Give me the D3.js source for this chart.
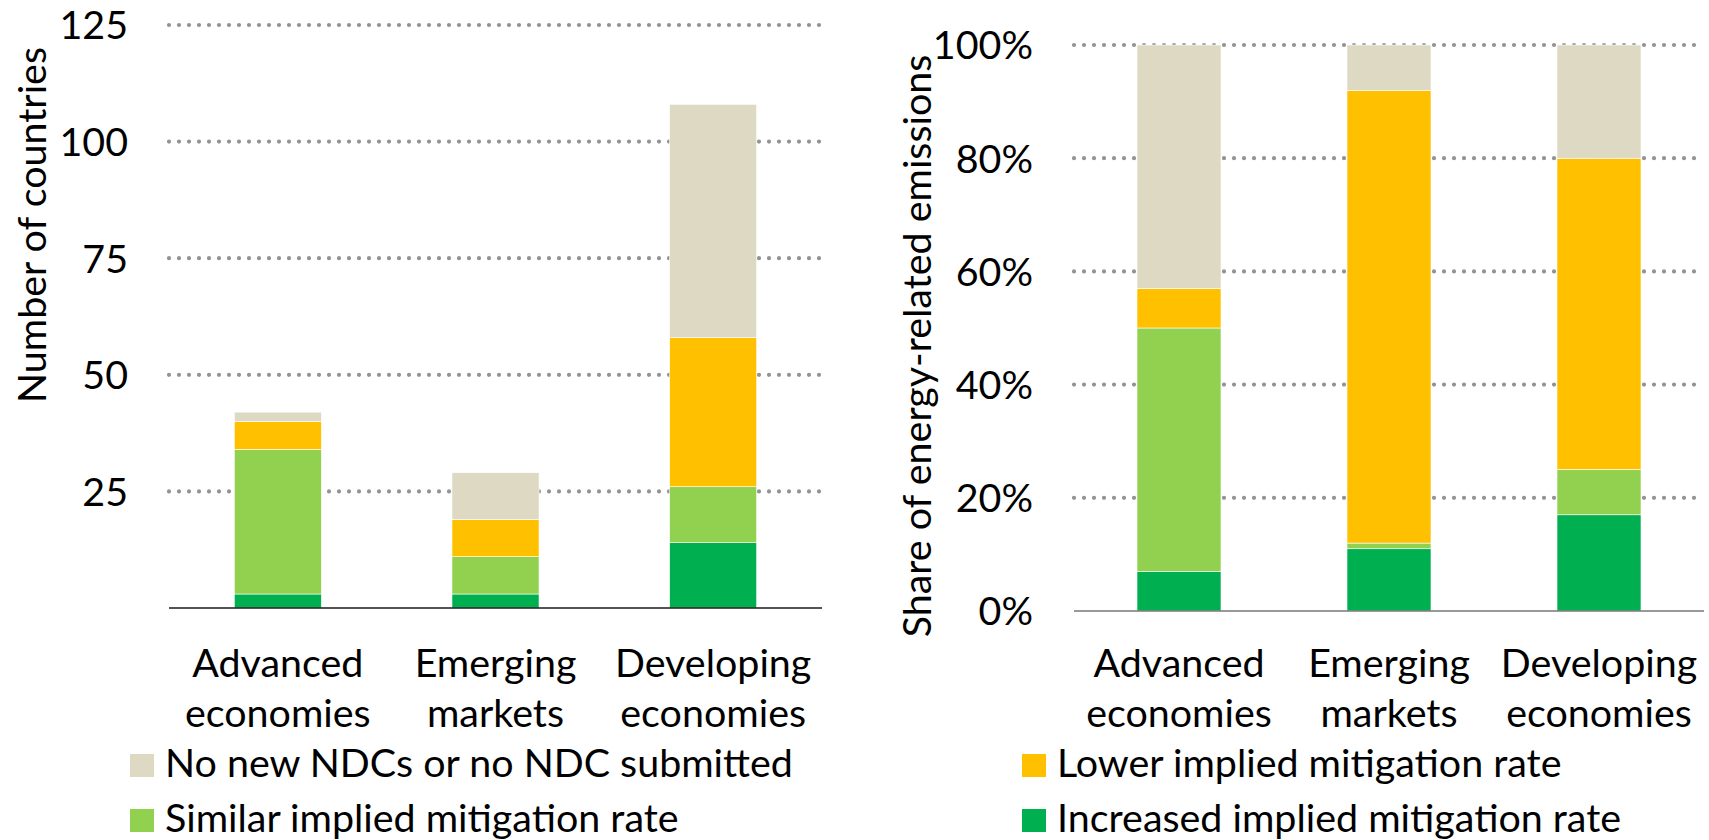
<!DOCTYPE html>
<html>
<head>
<meta charset="utf-8">
<script src="https://cdnjs.cloudflare.com/ajax/libs/d3/7.8.5/d3.min.js"></script>
<style>
  body { margin: 0; background: #fff; }
  svg text { font-family: Lato, "Open Sans", sans-serif; fill: #000; }
</style>
</head>
<body>
<svg id="chart" width="1709" height="840"></svg>
<script>

// categories (two lines each)
var categories = ["Advanced economies", "Emerging markets", "Developing economies"];
var categoryLines = [["Advanced", "economies"], ["Emerging", "markets"], ["Developing", "economies"]];

// series, stacked from the bottom up
var seriesKeys = ["increased", "similar", "lower", "none"];
var seriesNames = {
  none: "No new NDCs or no NDC submitted",
  similar: "Similar implied mitigation rate",
  lower: "Lower implied mitigation rate",
  increased: "Increased implied mitigation rate"
};

// number of countries
var countriesIncreased = [3, 3, 14];
var countriesSimilar   = [31, 8, 12];
var countriesLower     = [6, 8, 32];
var countriesNone      = [2, 10, 50];

// share of energy-related emissions (%)
var emissionsIncreased = [7, 11, 17];
var emissionsSimilar   = [43, 1, 8];
var emissionsLower     = [7, 80, 55];
var emissionsNone      = [43, 8, 20];

// tick labels
var countryTicks = [25, 50, 75, 100, 125];
var shareTicks = [0, 20, 40, 60, 80, 100];

var colour = d3.scaleOrdinal()
  .domain(seriesKeys)
  .range(["#00B050", "#92D050", "#FFC000", "#DDD9C3"]);

var svg = d3.select("#chart");

// pick a font size so the Lato text runs about as wide as the original
var probe = svg.append("text").attr("font-size", 100).text(seriesNames.none);
var fontSize = Math.min(44, 100 * 628 / probe.node().getComputedTextLength());
probe.remove();

function rows(a, b, c, d) {
  return categories.map(function(cat, i) {
    return { category: cat, increased: a[i], similar: b[i], lower: c[i], none: d[i] };
  });
}

function drawPanel(opt) {
  var x = d3.scaleBand()
    .domain(categories)
    .range([opt.left, opt.right])
    .paddingInner(0.6)
    .paddingOuter(0.3);

  var y = d3.scaleLinear()
    .domain([0, opt.max])
    .range([opt.bottom, opt.top]);

  var g = svg.append("g");

  // dotted gridlines
  g.selectAll(".grid")
    .data(opt.ticks.filter(function(t) { return t > 0; }))
    .enter().append("line")
      .attr("x1", opt.left)
      .attr("x2", opt.right)
      .attr("y1", function(d) { return y(d); })
      .attr("y2", function(d) { return y(d); })
      .attr("stroke", "#939393")
      .attr("stroke-width", 4.2)
      .attr("stroke-linecap", "round")
      .attr("stroke-dasharray", "0 10");

  // stacked bars
  var stack = d3.stack().keys(seriesKeys)(opt.data);
  g.selectAll(".layer")
    .data(stack)
    .enter().append("g")
      .attr("fill", function(d) { return colour(d.key); })
    .selectAll("rect")
    .data(function(d) { return d; })
    .enter().append("rect")
      .attr("x", function(d) { return x(d.data.category); })
      .attr("width", x.bandwidth())
      .attr("y", function(d) { return y(d[1]); })
      .attr("height", function(d) { return y(d[0]) - y(d[1]); })
      .attr("stroke", "#fff")
      .attr("stroke-width", 0.6);

  // baseline
  g.append("line")
    .attr("x1", opt.left)
    .attr("x2", opt.right)
    .attr("y1", y(0))
    .attr("y2", y(0))
    .attr("stroke", opt.baseColour)
    .attr("stroke-width", 1.5);

  // y axis labels
  var axis = d3.axisLeft(y)
    .tickValues(opt.ticks)
    .tickSize(0)
    .tickPadding(0)
    .tickFormat(opt.format);
  var ax = g.append("g")
    .attr("transform", "translate(" + opt.labelX + ",0)")
    .call(axis);
  ax.select(".domain").remove();
  ax.selectAll("text")
    .attr("font-size", fontSize)
    .attr("font-family", null)
    .attr("dy", "0.35em");

  // category labels
  var cat = g.selectAll(".cat")
    .data(categories)
    .enter().append("text")
      .attr("text-anchor", "middle")
      .attr("font-size", fontSize);
  cat.selectAll("tspan")
    .data(function(d, i) { return categoryLines[i]; })
    .enter().append("tspan")
      .attr("x", function() { return x(d3.select(this.parentNode).datum()) + x.bandwidth() / 2; })
      .attr("y", function(d, i) { return 677 + i * 50; })
      .text(function(d) { return d; });

  // y axis title
  g.append("text")
    .attr("transform", "translate(" + opt.titleX + "," + opt.titleY + ") rotate(-90)")
    .attr("text-anchor", "middle")
    .attr("font-size", fontSize)
    .text(opt.title);
}

drawPanel({
  data: rows(countriesIncreased, countriesSimilar, countriesLower, countriesNone),
  left: 169, right: 822, top: 25, bottom: 608, max: 125,
  ticks: countryTicks,
  format: function(d) { return d; },
  labelX: 128,
  baseColour: "#1a1a1a",
  title: "Number of countries", titleX: 46, titleY: 225
});

drawPanel({
  data: rows(emissionsIncreased, emissionsSimilar, emissionsLower, emissionsNone),
  left: 1074, right: 1704, top: 45, bottom: 611, max: 100,
  ticks: shareTicks,
  format: function(d) { return d + "%"; },
  labelX: 1033,
  baseColour: "#777",
  title: "Share of energy-related emissions", titleX: 931, titleY: 346
});

// Legend
var legendItems = [
  { key: "none", x: 130, y: 754 },
  { key: "similar", x: 130, y: 809 },
  { key: "lower", x: 1022, y: 754 },
  { key: "increased", x: 1022, y: 809 }
];

var legend = svg.selectAll(".legend")
  .data(legendItems)
  .enter().append("g")
    .attr("transform", function(d) { return "translate(" + d.x + "," + d.y + ")"; });

legend.append("rect")
  .attr("width", 24)
  .attr("height", 23)
  .attr("fill", function(d) { return colour(d.key); });

legend.append("text")
  .attr("x", 35)
  .attr("y", 23)
  .attr("font-size", fontSize)
  .text(function(d) { return seriesNames[d.key]; });

</script>
</body>
</html>
